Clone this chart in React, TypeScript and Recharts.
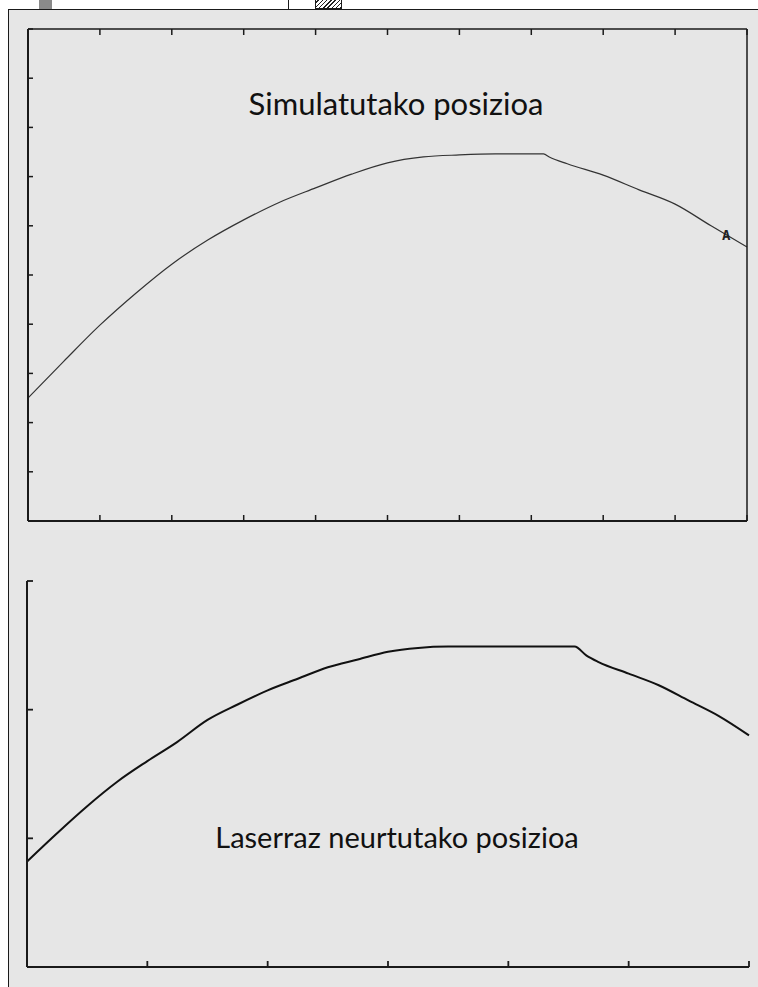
import { LineChart, Line, XAxis, YAxis } from 'recharts';

// Simulatutako posizioa (goiko grafikoa)
const simX = [0, 0.5, 1, 1.5, 2, 2.5, 3, 3.5, 4, 4.5, 5, 5.5, 6, 6.5, 7, 7.17, 7.25, 7.5, 8, 8.5, 9, 9.5, 10];
const simY = [2.5, 3.25, 3.98, 4.63, 5.22, 5.71, 6.12, 6.48, 6.77, 7.05, 7.28, 7.4, 7.44, 7.46, 7.46, 7.46, 7.4, 7.26, 7.03, 6.73, 6.44, 6.0, 5.57];
const simTicksX = [0, 1, 2, 3, 4, 5, 6, 7, 8, 9, 10];
const simTicksY = [0, 1, 2, 3, 4, 5, 6, 7, 8, 9, 10];

// Laserraz neurtutako posizioa (beheko grafikoa)
const lasX = [0, 0.25, 0.5, 0.75, 1, 1.25, 1.5, 1.75, 2, 2.25, 2.5, 2.75, 3, 3.25, 3.5, 4, 4.55, 4.65, 4.75, 5, 5.25, 5.5, 5.75, 6];
const lasY = [0.82, 1.04, 1.25, 1.44, 1.6, 1.75, 1.92, 2.04, 2.15, 2.24, 2.33, 2.39, 2.45, 2.48, 2.49, 2.49, 2.49, 2.42, 2.37, 2.28, 2.19, 2.07, 1.95, 1.8];
const lasTicksX = [0, 1, 2, 3, 4, 5, 6];
const lasTicksY = [0, 1, 2, 3];

const simData = simX.map((x, i) => ({ x, y: simY[i] }));
const lasData = lasX.map((x, i) => ({ x, y: lasY[i] }));

const ink = '#1a1a1a';
const noLabel = () => '';

export default function App() {
  return (
    <div
      style={{
        position: 'absolute',
        left: 0,
        top: 0,
        width: 758,
        height: 987,
        overflow: 'hidden',
        background: '#fff',
      }}
    >
      {/* aurreko orriaren hondarrak */}
      <div style={{ position: 'absolute', left: 39, top: 0, width: 13, height: 9, background: '#8a8a8a' }} />
      <div style={{ position: 'absolute', left: 288, top: 0, width: 1, height: 9, background: ink }} />
      <div
        style={{
          position: 'absolute',
          left: 315,
          top: 0,
          width: 25,
          height: 8,
          border: `1px solid ${ink}`,
          borderTop: 'none',
          background: 'repeating-linear-gradient(-45deg, #222 0 1px, #fff 1px 3px)',
        }}
      />

      <div
        style={{
          position: 'absolute',
          left: 8,
          top: 9,
          width: 770,
          height: 1000,
          border: `1px solid ${ink}`,
          background: '#e6e6e6',
        }}
      />

      <div style={{ position: 'absolute', left: 0, top: 0 }}>
        <LineChart width={758} height={540} data={simData} margin={{ top: 29, right: 11, bottom: 19, left: 28 }}>
          <XAxis
            xAxisId="b"
            type="number"
            dataKey="x"
            domain={[0, 10]}
            ticks={simTicksX}
            mirror
            tickSize={6}
            tickFormatter={noLabel}
            axisLine={{ stroke: ink, strokeWidth: 2 }}
            tickLine={{ stroke: ink, strokeWidth: 1.5 }}
          />
          <XAxis
            xAxisId="t"
            orientation="top"
            type="number"
            dataKey="x"
            domain={[0, 10]}
            ticks={simTicksX}
            mirror
            tickSize={6}
            tickFormatter={noLabel}
            axisLine={{ stroke: ink, strokeWidth: 1.5 }}
            tickLine={{ stroke: ink, strokeWidth: 1.5 }}
          />
          <YAxis
            yAxisId="l"
            type="number"
            domain={[0, 10]}
            ticks={simTicksY}
            mirror
            tickSize={5}
            tickFormatter={noLabel}
            axisLine={{ stroke: ink, strokeWidth: 2 }}
            tickLine={{ stroke: ink, strokeWidth: 1.5 }}
          />
          <YAxis
            yAxisId="r"
            orientation="right"
            type="number"
            domain={[0, 10]}
            ticks={simTicksY}
            mirror
            tickSize={5}
            tickFormatter={noLabel}
            axisLine={{ stroke: ink, strokeWidth: 1.5 }}
            tickLine={{ stroke: ink, strokeWidth: 1.5 }}
          />
          <Line
            xAxisId="b"
            yAxisId="l"
            type="monotone"
            dataKey="y"
            stroke="#333"
            strokeWidth={1.2}
            dot={false}
            isAnimationActive={false}
          />
        </LineChart>
      </div>

      <div style={{ position: 'absolute', left: 0, top: 560 }}>
        <LineChart width={758} height={427} data={lasData} margin={{ top: 21, right: 9, bottom: 20, left: 27 }}>
          <XAxis
            type="number"
            dataKey="x"
            domain={[0, 6]}
            ticks={lasTicksX}
            mirror
            tickSize={6}
            tickFormatter={noLabel}
            axisLine={{ stroke: ink, strokeWidth: 2 }}
            tickLine={{ stroke: ink, strokeWidth: 1.8 }}
          />
          <YAxis
            type="number"
            domain={[0, 3]}
            ticks={lasTicksY}
            mirror
            tickSize={6}
            tickFormatter={noLabel}
            axisLine={{ stroke: ink, strokeWidth: 2 }}
            tickLine={{ stroke: ink, strokeWidth: 1.8 }}
          />
          <Line
            type="monotone"
            dataKey="y"
            stroke="#111"
            strokeWidth={2}
            dot={false}
            isAnimationActive={false}
          />
        </LineChart>
      </div>

      <div
        style={{
          position: 'absolute',
          left: 0,
          width: 792,
          top: 85,
          textAlign: 'center',
          fontFamily: 'Lato, sans-serif',
          fontSize: 31,
          color: '#111',
          lineHeight: '36px',
        }}
      >
        Simulatutako posizioa
      </div>
      <div
        style={{
          position: 'absolute',
          left: 0,
          width: 794,
          top: 820,
          textAlign: 'center',
          fontFamily: 'Lato, sans-serif',
          fontSize: 29,
          color: '#111',
          lineHeight: '34px',
        }}
      >
        Laserraz neurtutako posizioa
      </div>
      <div
        style={{
          position: 'absolute',
          left: 722,
          top: 227,
          fontFamily: '"DejaVu Sans Mono", monospace',
          fontSize: 14,
          fontWeight: 'bold',
          color: '#222',
        }}
      >
        A
      </div>
    </div>
  );
}
